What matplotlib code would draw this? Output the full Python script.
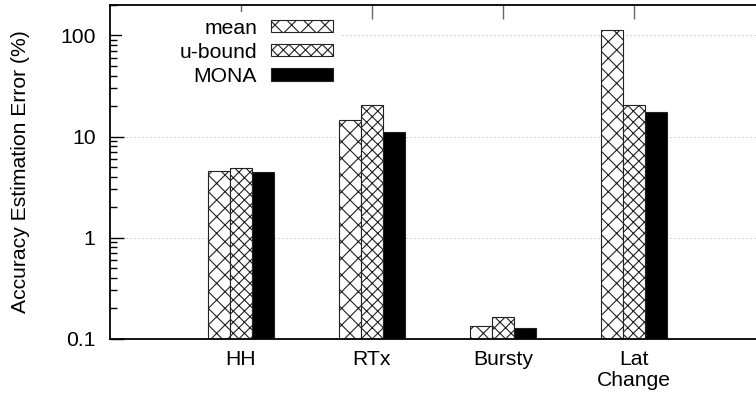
import numpy as np
import matplotlib
matplotlib.use("Agg")
import matplotlib.pyplot as plt
from matplotlib.patches import Rectangle

# error of each estimator per scenario, in percent
categories = ["HH", "RTx", "Bursty", "Lat\nChange"]
series_names = ["mean", "u-bound", "MONA"]
mean_err = [4.57, 14.6, 0.134, 114.0]
ubound_err = [4.93, 20.5, 0.165, 20.5]
mona_err = [4.44, 11.1, 0.127, 17.4]

ytick_vals = [0.1, 1, 10, 100]
ytick_labels = ["0.1", "1", "10", "100"]

plt.rcParams["font.family"] = ["Liberation Sans", "DejaVu Sans"]
plt.rcParams["hatch.linewidth"] = 0.8
plt.rcParams["hatch.color"] = "black"
FS = 15.2

W, H = 756, 408
fig = plt.figure(figsize=(W / 100, H / 100), dpi=100)
ax = fig.add_axes([109.5 / W, 1 - 338.7 / H, 1 - 109.5 / W, (338.7 - 5) / H])

x = np.arange(len(categories))
bw = 0.168
styles = [dict(facecolor="white", hatch="xx"),
          dict(facecolor="white", hatch="xxx"),
          dict(facecolor="black", hatch=None)]
for i, (vals, name, st) in enumerate(zip([mean_err, ubound_err, mona_err], series_names, styles)):
    ax.bar(x + (i - 1) * bw, vals, bw, label=name, edgecolor="#222222",
           linewidth=0.8, zorder=2, **st)

ax.set_yscale("log")
ax.set_ylim(0.1, 200)
ax.set_xlim(-1.0, 3.93)
ax.set_yticks(ytick_vals)
ax.set_yticklabels(ytick_labels, fontsize=FS)
ax.set_xticks(x)
ax.set_xticklabels(categories, fontsize=FS, linespacing=1.15)
ax.set_ylabel("Accuracy Estimation Error (%)", fontsize=FS, labelpad=22)

ax.tick_params(axis="y", which="major", direction="in", length=10, width=1, pad=10,
               left=True, right=False)
ax.tick_params(axis="y", which="minor", direction="in", length=5, width=1,
               left=True, right=False, labelleft=False)
ax.tick_params(axis="x", direction="in", length=10, width=1, pad=8,
               top=True, bottom=True, color="#666666")
ax.spines["right"].set_visible(False)
for s in ["left", "top", "bottom"]:
    ax.spines[s].set_linewidth(1.3)
    ax.spines[s].set_color("black")

ax.set_axisbelow(True)
ax.yaxis.grid(True, which="major", color="#aaaaaa", linestyle=(0, (1, 3)), linewidth=0.72)

# blank area behind the key so grid lines stop there
ax_w = W - 109.5
ax_h = 338.7 - 5
ax.add_patch(Rectangle((12 / ax_w, 1 - (88 - 5) / ax_h), (340 - 109.5 - 12) / ax_w, (88 - 12) / ax_h,
                       transform=ax.transAxes, facecolor="white", edgecolor="none", zorder=1))

ax.legend(loc="upper right", bbox_to_anchor=(333 / W, 1 - 18.5 / H), bbox_transform=fig.transFigure,
          frameon=False, fontsize=FS, markerfirst=False, borderaxespad=0, borderpad=0,
          handlelength=2.95, handleheight=0.55, handletextpad=0.65, labelspacing=0.24)

fig.savefig("out.png", dpi=100)
